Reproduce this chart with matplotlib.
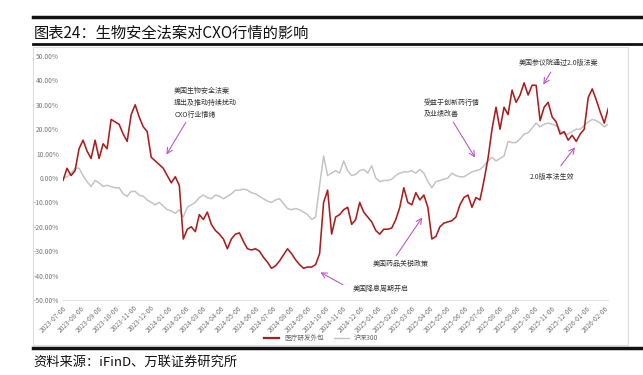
import pandas as pd
import matplotlib.pyplot as plt
import matplotlib.dates as mdates
from matplotlib.lines import Line2D

plt.rcParams['font.family'] = ['Noto Sans CJK SC', 'DejaVu Sans']

# weekly points from 2023-07-06
dates = pd.date_range("2023-07-06", periods=137, freq="7D")

cxo = [-1, 4, 1, 3, 12, 15.5, 11, 8, 15.5, 8,
       14, 12, 24, 23, 22, 18, 15, 26, 30, 25,
       21, 19, 8.5, 7, 5.5, 4, 1, -2, 0.5, -3,
       -25, -21, -20, -22, -15, -17, -14, -19, -21.5, -23,
       -25, -29, -25, -23, -22.5, -26, -29, -29.5, -29, -30,
       -32.5, -34.5, -37, -36, -34, -31.5, -29, -31, -33.5, -35.5,
       -37, -36.5, -36.5, -35.5, -31, -10, -5, -23, -16, -15,
       -13, -12, -19, -17, -10, -14, -16, -18, -21.5, -23,
       -21, -21, -20.5, -17, -12, -4, -10, -11, -6, -9,
       -7, -12, -25, -24, -20, -18.5, -18, -17.5, -16, -11,
       -8, -7, -12, -8, -9, -1, 8, 20, 29, 20,
       29, 26, 36, 31, 34, 39, 34, 38, 38, 23.5,
       29, 31, 25, 23, 18, 19, 15.5, 17.5, 15, 18,
       20, 33, 36.5, 32, 27, 22.5, 28.5]

hs300 = [0, 0.5, 2, 4, 4, 1, -1.5, -3.5, -1, -2,
         -3.5, -3, -3.5, -4, -4, -6.5, -7.5, -5.5, -5.5, -7,
         -7.5, -9, -10, -11, -10, -11.5, -13, -13.5, -14.5, -13,
         -16, -12, -11, -10, -8, -7, -8, -8.5, -7, -7.5,
         -8.5, -7.5, -6.5, -5, -5, -4.5, -5, -6, -6.5, -7.5,
         -8.5, -9.5, -10, -9, -8.5, -10.5, -12.5, -13, -12.5, -13,
         -14, -15, -17, -16, -3, 9, 1, 2, 3, 2,
         7, 3, 1, 1.5, 3, 3.5, 2, 5, 0, -1.5,
         -1, -1, -0.5, 1, 2, 2.5, 2.5, 3, 2, 3.5,
         2, -1.5, -4, -1.5, -1, -0.5, 0, 2, 1, 0.5,
         0.5, 1.5, 2.5, 3, 3.5, 5, 7, 8.5, 7, 8,
         9, 15, 14.5, 14.5, 16, 18, 18.5, 20.5, 22.5, 21,
         22, 22.5, 22, 21.5, 19.5, 18, 18, 19, 20, 20,
         21.5, 23, 24, 23.5, 22.5, 21, 22]

notes = [
    ("美国生物安全法案\n提出及推动持续扰动\nCXO行业情绪", "2024-01-16", 30.7, "2024-02-08", 23.8, "2023-12-31", 8.6),
    ("美国降息周期开启", "2024-11-22", -45.5, "2024-11-10", -44.3, "2024-09-23", -38.1),
    ("美国药品关税政策", "2024-12-28", -35.2, "2025-02-04", -32.8, "2025-03-27", -15.2),
    ("受益于创新药行情\n及业绩改善", "2025-03-27", 28.5, "2025-05-15", 23.8, "2025-06-27", 7.4),
    ("美国参议院通过2.0版法案", "2025-09-08", 47.1, "2025-11-06", 44.3, "2025-10-19", 37.3),
    ("2.0版本法生效", "2025-09-28", 0.4, "2025-11-18", 4.1, "2025-12-19", 13.5),
]

red = "#A81E1E"
grey = "#C4C4C4"
purple = "#B85CC8"

fig = plt.figure(figsize=(6.43, 3.75), dpi=100)
ax = fig.add_axes([0.098, 0.2, 0.848, 0.6507])

ax.plot(dates, hs300, color=grey, lw=1.1)
ax.plot(dates, cxo, color=red, lw=1.15)

ax.set_ylim(-50, 50)
ax.set_xlim(dates[0], dates[-1])
ax.set_yticks(range(-50, 51, 10))
ax.yaxis.set_major_formatter(plt.FuncFormatter(lambda v, p: f"{v:.2f}%"))
ax.xaxis.set_major_locator(mdates.MonthLocator(bymonthday=6))
ax.xaxis.set_major_formatter(mdates.DateFormatter("%Y-%m-%d"))
ax.tick_params(axis='both', labelsize=4.8, labelcolor="#777777", length=0, pad=3)
plt.setp(ax.get_xticklabels(), rotation=45, ha='right', rotation_mode='anchor')
for s in ['top', 'right', 'left']:
    ax.spines[s].set_visible(False)
ax.spines['bottom'].set_color("#E3E3E3")
ax.spines['bottom'].set_linewidth(0.8)

for txt, tx, ty, ax0, ay0, ax1, ay1 in notes:
    ax.text(pd.Timestamp(tx), ty, txt, fontsize=5, color="#333333",
            ha='left', va='center', linespacing=1.6)
    ax.annotate("", xy=(pd.Timestamp(ax1), ay1), xytext=(pd.Timestamp(ax0), ay0),
                arrowprops=dict(arrowstyle="->", color=purple, lw=0.8))

handles = [Line2D([], [], color=red, lw=1.6), Line2D([], [], color=grey, lw=1.0)]
fig.legend(handles, ["医疗研发外包", "沪深300"], loc='center', bbox_to_anchor=(0.5, 0.098),
           ncol=2, frameon=False, fontsize=4.8, handlelength=2.2, columnspacing=1.5,
           labelcolor="#666666")

# frame around chart and report rules
fig.patches.append(plt.Rectangle((0.052, 0.08), 0.925, 0.795, transform=fig.transFigure,
                                 fill=False, edgecolor="#DDDDDD", lw=0.8))
fig.add_artist(Line2D([0.052, 1.0], [0.955, 0.955], color="#111111", lw=2.5))
fig.add_artist(Line2D([0.052, 1.0], [0.882, 0.882], color="#111111", lw=2.0))
fig.add_artist(Line2D([0.052, 1.0], [0.073, 0.073], color="#111111", lw=2.5))

fig.text(0.052, 0.913, "图表24：生物安全法案对CXO行情的影响", fontsize=11, color="#111111",
         va='center', ha='left')
fig.text(0.052, 0.035, "资料来源：iFinD、万联证券研究所", fontsize=9.5, color="#111111",
         va='center', ha='left')

fig.savefig("out.png", dpi=100)
